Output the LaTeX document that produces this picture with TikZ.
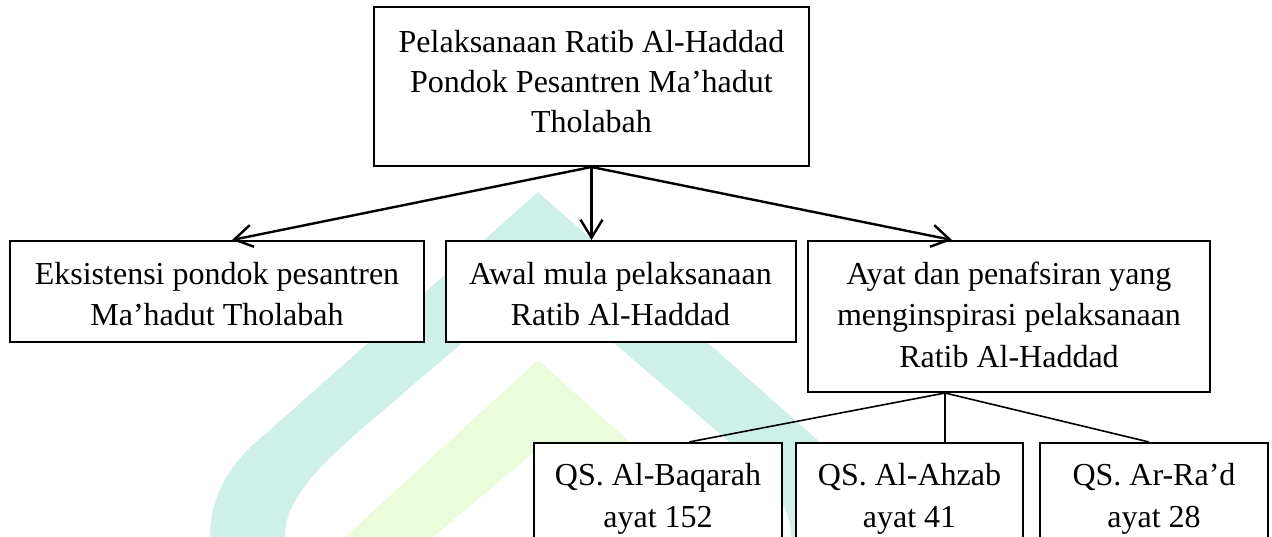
\documentclass[tikz,border=0pt]{standalone}
\usepackage{fontspec}
\setmainfont{Liberation Serif}
\usetikzlibrary{arrows.meta}
\definecolor{wmteal}{RGB}{206,240,232}
\definecolor{wmgreen}{RGB}{237,251,221}
\newcommand{\shtxt}[2]{\raisebox{#1}[\height][\depth]{\begin{tabular}{@{}c@{}}#2\end{tabular}}}
\begin{document}
\begin{tikzpicture}[x=1pt,y=-1pt,
  box/.style={draw=black, line width=2pt, fill=white, align=center, inner sep=0pt,
    font=\fontsize{32}{41.5}\selectfont},
  arr/.style={line width=2.4pt, -{Straight Barb[length=18pt,width=22pt]}},
  lnk/.style={line width=1.6pt}]
\useasboundingbox (0,0) rectangle (1272,537);
\clip (0,0) rectangle (1272,537);
% watermark
\fill[wmteal] (210,537) .. controls (210,505) and (222,470) .. (262,437) -- (538,192)
  -- (814,437) .. controls (854,470) and (866,505) .. (866,537) -- (791,537)
  .. controls (791,505) and (770,478) .. (718,432) -- (538,278) -- (358,432)
  .. controls (306,478) and (285,505) .. (285,537) -- cycle;
\fill[wmgreen] (345,537) -- (538,360) -- (736,537) -- (643,537) -- (538,449) -- (433,537) -- cycle;
% boxes
\node[box, minimum width=435, minimum height=159, font=\fontsize{32}{40}\selectfont] (top) at (591.5,86.5)
  {\shtxt{2pt}{Pelaksanaan Ratib Al-Haddad\\Pondok Pesantren Ma’hadut\\Tholabah}};
\node[box, minimum width=414, minimum height=101] (b1) at (217,291.5)
  {\shtxt{-5pt}{Eksistensi pondok pesantren\\Ma’hadut Tholabah}};
\node[box, minimum width=350, minimum height=101] (b2) at (620.5,291.5)
  {\shtxt{-5pt}{Awal mula pelaksanaan\\Ratib Al-Haddad}};
\node[box, minimum width=402, minimum height=151] (b3) at (1009,316.5)
  {\shtxt{-1pt}{Ayat dan penafsiran yang\\menginspirasi pelaksanaan\\Ratib Al-Haddad}};
\node[box, minimum width=248, minimum height=102] (b4) at (658,494)
  {\shtxt{-4pt}{QS. Al-Baqarah\\ayat 152}};
\node[box, minimum width=227, minimum height=102] (b5) at (909.5,494)
  {\shtxt{-4pt}{QS. Al-Ahzab\\ayat 41}};
\node[box, minimum width=228, minimum height=102] (b6) at (1154,494)
  {\shtxt{-4pt}{QS. Ar-Ra’d\\ayat 28}};
% connectors
\draw[arr] (top.south) -- ([xshift=15]b1.north);
\draw[arr] (top.south) -- (top.south |- b2.north);
\draw[arr] (top.south) -- ([xshift=-57]b3.north);
\coordinate (s3) at ([xshift=-64]b3.south);
\draw[lnk] (s3) -- ([xshift=31]b4.north);
\draw[lnk] (s3) -- (s3 |- b5.north);
\draw[lnk] (s3) -- ([xshift=-5]b6.north);
\end{tikzpicture}
\end{document}
